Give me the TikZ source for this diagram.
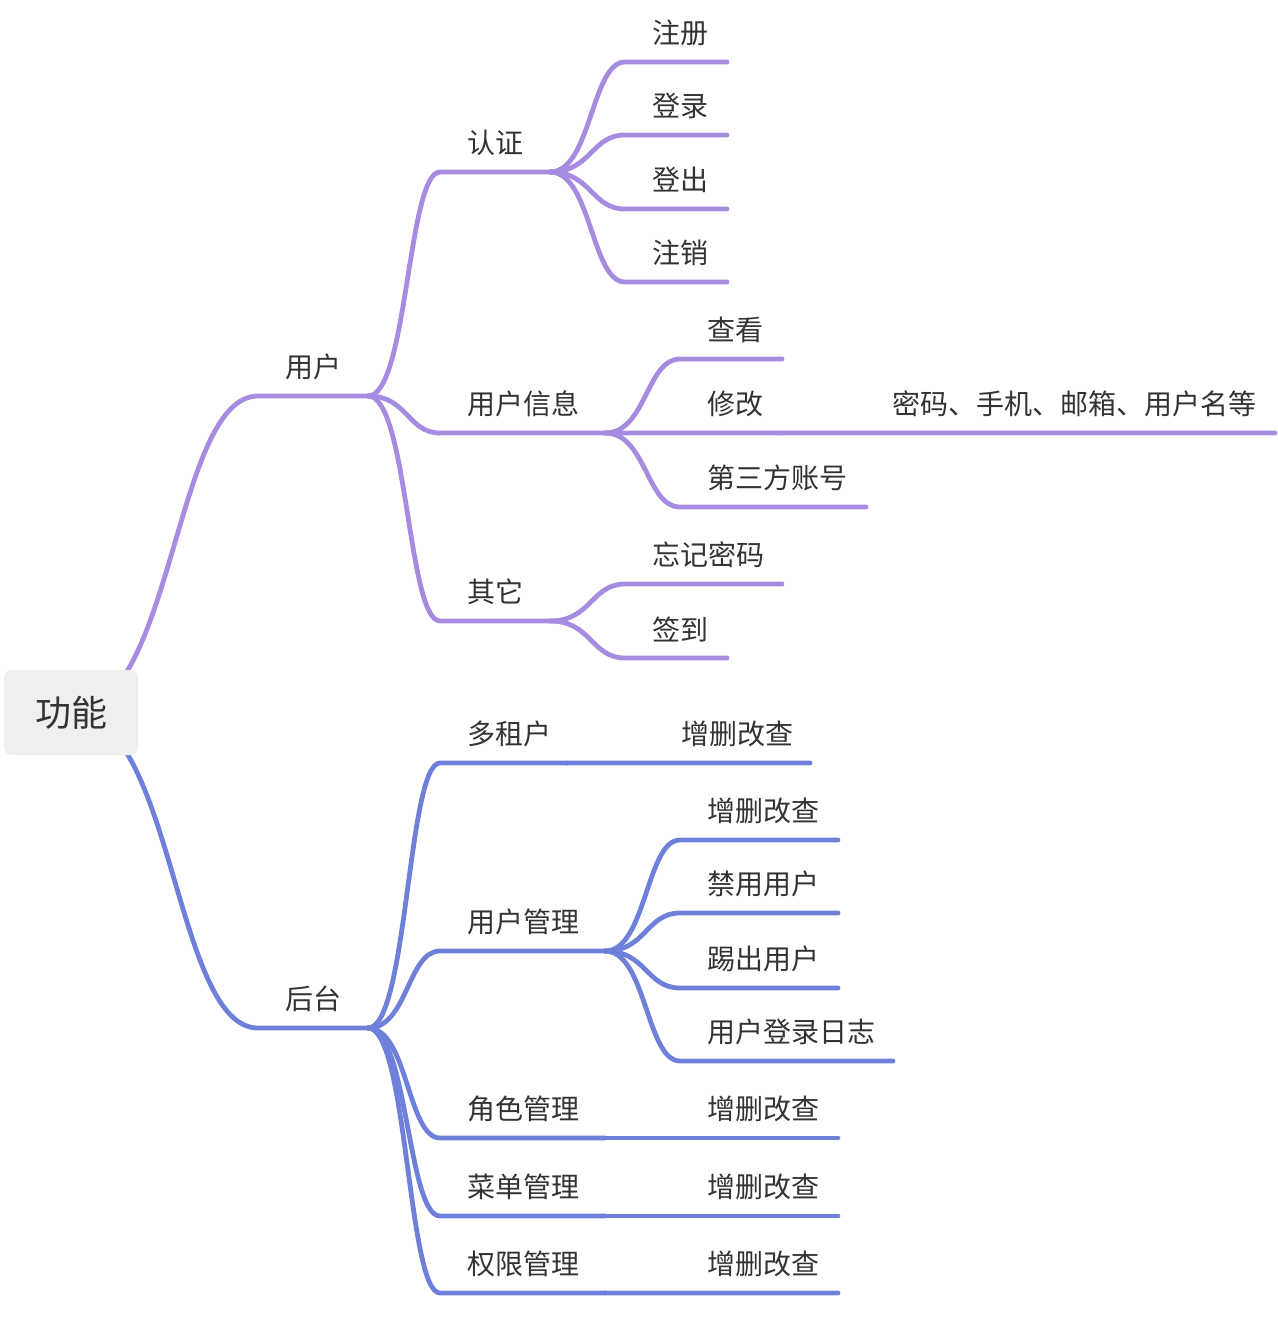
\documentclass[tikz,border=0pt]{standalone}
\usepackage{fontspec}
\newfontfamily\cjk{Noto Sans CJK SC}
\usetikzlibrary{calc}
\definecolor{purp}{HTML}{A78BE0}
\definecolor{blu}{HTML}{6F80DB}
\definecolor{rootfill}{HTML}{EEF0EF}
\definecolor{txt}{HTML}{333333}
\colorlet{brc}{purp}
% #1 name, #2 parent, #3 x start, #4 x end, #5 y, #6 text
\newcommand\mmtopic[6]{%
  \coordinate (#1-s) at (#3,#5);
  \coordinate (#1-e) at (#4,#5);
  \node[lbl] (#1) at ($(#1-s)+(27,-29)$) {#6};
  \draw[conn] (#2-e) to[branch] (#1-s) -- (#1-e);
}
\begin{document}
\begin{tikzpicture}[x=0.5pt,y=-0.5pt,
  lbl/.style={anchor=west, inner sep=0pt, text=txt, font=\cjk\fontsize{14}{16}\selectfont},
  conn/.style={draw=brc, line width=2.4pt, line cap=round},
  branch/.style={to path={.. controls ($(\tikztostart)!0.55!(\tikztostart -| \tikztotarget)$) and ($(\tikztostart |- \tikztotarget)!0.55!(\tikztotarget)$) .. (\tikztotarget)}},
  rootbox/.style={draw=none, fill=rootfill, rounded corners=4pt, minimum width=67pt, minimum height=42.5pt, inner sep=0pt, text=txt, font=\cjk\fontsize{18}{20}\selectfont}]
\useasboundingbox (0,0) rectangle (1278,1338);
\coordinate (rc-e) at (71,712.5);
% upper branch
\colorlet{brc}{purp}
\mmtopic{yh}{rc}{258}{368}{396}{用户}
\mmtopic{rz}{yh}{440}{550}{172}{认证}
\mmtopic{zc}{rz}{625}{727}{62}{注册}
\mmtopic{dl}{rz}{625}{727}{135}{登录}
\mmtopic{dc}{rz}{625}{727}{209}{登出}
\mmtopic{zx}{rz}{625}{727}{282}{注销}
\mmtopic{xx}{yh}{440}{605}{433}{用户信息}
\mmtopic{ck}{xx}{680}{782}{359}{查看}
\mmtopic{xg}{xx}{680}{782}{433}{修改}
\mmtopic{mm}{xg}{865}{1275}{433}{密码、手机、邮箱、用户名等}
\mmtopic{sf}{xx}{680}{866}{507}{第三方账号}
\mmtopic{qt}{yh}{440}{550}{621}{其它}
\mmtopic{wj}{qt}{625}{782}{584}{忘记密码}
\mmtopic{qd}{qt}{625}{727}{658}{签到}
% lower branch
\colorlet{brc}{blu}
\mmtopic{ht}{rc}{258}{368}{1028}{后台}
\mmtopic{dz}{ht}{440}{567}{763}{多租户}
\mmtopic{dzc}{dz}{654}{810}{763}{增删改查}
\mmtopic{gl}{ht}{440}{605}{951}{用户管理}
\mmtopic{ga}{gl}{680}{838}{840}{增删改查}
\mmtopic{gb}{gl}{680}{838}{913}{禁用用户}
\mmtopic{gc}{gl}{680}{838}{988}{踢出用户}
\mmtopic{gd}{gl}{680}{893}{1061}{用户登录日志}
\mmtopic{js}{ht}{440}{605}{1138}{角色管理}
\mmtopic{jsc}{js}{680}{838}{1138}{增删改查}
\mmtopic{cd}{ht}{440}{605}{1216}{菜单管理}
\mmtopic{cdc}{cd}{680}{838}{1216}{增删改查}
\mmtopic{qx}{ht}{440}{605}{1293}{权限管理}
\mmtopic{qxc}{qx}{680}{838}{1293}{增删改查}
% root drawn last, covering the hidden start of its two branches
\node[rootbox] (root) at (rc-e) {功能};
\end{tikzpicture}
\end{document}
